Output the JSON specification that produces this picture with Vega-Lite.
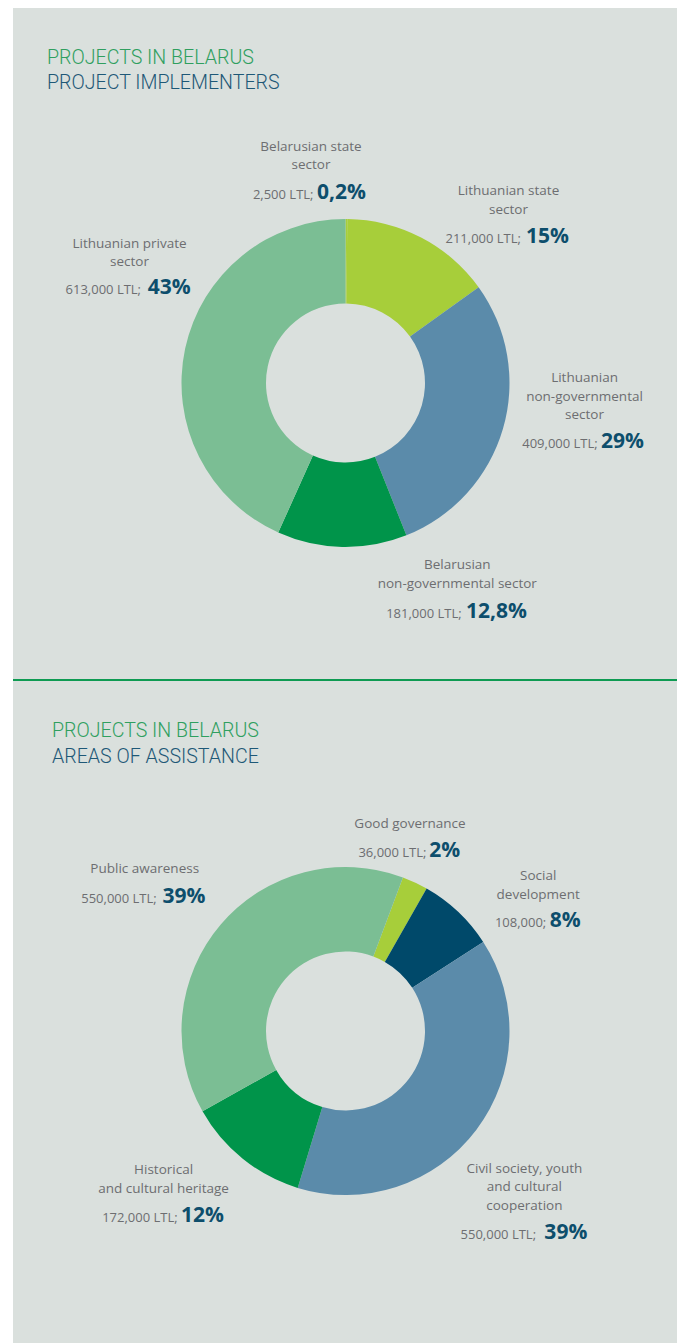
{
  "$schema": "https://vega.github.io/schema/vega-lite/v6.json",
  "background": "white",
  "padding": {"left": 12, "top": 8, "right": 0, "bottom": 0},
  "spacing": 0,
  "bounds": "flush",
  "config": {
    "view": {"fill": "#dae0dd", "stroke": null},
    "text": {"font": "Open Sans", "fontSize": 13.5, "color": "#6d6e71", "baseline": "alphabetic", "lineHeight": 18.8},
    "title": {"anchor": "start", "frame": "group", "font": "Roboto", "fontSize": 19.6, "fontWeight": 300, "color": "#2f9f5f", "subtitleFont": "Roboto", "subtitleFontSize": 19.6, "subtitleFontWeight": 300, "subtitleColor": "#1e5877", "subtitlePadding": 5}
  },
  "resolve": {"scale": {"theta": "independent", "color": "independent"}},
  "datasets": {
    "impl": [
      {"o": 1, "sector": "Belarusian state sector", "lines": ["Belarusian state", "sector"], "amount": 2500, "ltl": "2,500 LTL;", "pct": "0,2%"},
      {"o": 2, "sector": "Lithuanian state sector", "lines": ["Lithuanian state", "sector"], "amount": 211000, "ltl": "211,000 LTL;", "pct": "15%"},
      {"o": 3, "sector": "Lithuanian non-governmental sector", "lines": ["Lithuanian", "non-governmental", "sector"], "amount": 409000, "ltl": "409,000 LTL;", "pct": "29%"},
      {"o": 4, "sector": "Belarusian non-governmental sector", "lines": ["Belarusian", "non-governmental sector"], "amount": 181000, "ltl": "181,000 LTL;", "pct": "12,8%"},
      {"o": 5, "sector": "Lithuanian private sector", "lines": ["Lithuanian private", "sector"], "amount": 613000, "ltl": "613,000 LTL;", "pct": "43%"}
    ],
    "areas": [
      {"o": 1, "area": "Good governance", "lines": ["Good governance"], "amount": 36000, "ltl": "36,000 LTL;", "pct": "2%"},
      {"o": 2, "area": "Social development", "lines": ["Social", "development"], "amount": 108000, "ltl": "108,000;", "pct": "8%"},
      {"o": 3, "area": "Civil society, youth and cultural cooperation", "lines": ["Civil society, youth", "and cultural", "cooperation"], "amount": 550000, "ltl": "550,000 LTL;", "pct": "39%"},
      {"o": 4, "area": "Historical and cultural heritage", "lines": ["Historical", "and cultural heritage"], "amount": 172000, "ltl": "172,000 LTL;", "pct": "12%"},
      {"o": 5, "area": "Public awareness", "lines": ["Public awareness"], "amount": 550000, "ltl": "550,000 LTL;", "pct": "39%"}
    ]
  },
  "vconcat": [
    {
      "width": 665,
      "height": 78,
      "view": {"fill": "#dae0dd", "stroke": null},
      "data": {"values": []},
      "mark": {"type": "text"}
    },
    {
      "width": 665,
      "height": 594,
      "view": {"fill": "#dae0dd", "stroke": null},
      "title": {"text": "PROJECTS IN BELARUS", "subtitle": "PROJECT IMPLEMENTERS", "offset": -14.8, "dx": 34},
      "data": {"name": "impl"},
      "encoding": {
        "theta": {"field": "amount", "type": "quantitative", "stack": true},
        "order": {"field": "o", "type": "quantitative"}
      },
      "layer": [
        {"mark": {"type": "arc", "radius": 164, "innerRadius": 79.5},
         "encoding": {"color": {"field": "sector", "type": "nominal", "legend": null,
           "scale": {"domain": ["Belarusian state sector", "Lithuanian state sector", "Lithuanian non-governmental sector", "Belarusian non-governmental sector", "Lithuanian private sector"],
                     "range": ["#a7ce3a", "#a7ce3a", "#5b8baa", "#00944a", "#7bbe94"]}}}},

        {"mark": {"type": "text", "radius": 200, "dx": -35.6, "dy": -32.3, "align": "center"},
         "encoding": {"text": {"condition": {"test": "datum.o === 1", "field": "lines", "type": "nominal"}, "value": ""}}},
        {"mark": {"type": "text", "radius": 200, "dx": -33.1, "dy": 16, "align": "right", "fontSize": 13},
         "encoding": {"text": {"condition": {"test": "datum.o === 1", "field": "ltl", "type": "nominal"}, "value": ""}}},
        {"mark": {"type": "text", "radius": 200, "dx": -29.6, "dy": 16, "align": "left", "fontSize": 21, "fontWeight": "bold", "color": "#0d4e6c"},
         "encoding": {"text": {"condition": {"test": "datum.o === 1", "field": "pct", "type": "nominal"}, "value": ""}}},

        {"mark": {"type": "text", "radius": 200, "dx": 70.8, "dy": -10.5, "align": "center"},
         "encoding": {"text": {"condition": {"test": "datum.o === 2", "field": "lines", "type": "nominal"}, "value": ""}}},
        {"mark": {"type": "text", "radius": 200, "dx": 83.3, "dy": 37.2, "align": "right", "fontSize": 13},
         "encoding": {"text": {"condition": {"test": "datum.o === 2", "field": "ltl", "type": "nominal"}, "value": ""}}},
        {"mark": {"type": "text", "radius": 200, "dx": 88.3, "dy": 37.2, "align": "left", "fontSize": 21, "fontWeight": "bold", "color": "#0d4e6c"},
         "encoding": {"text": {"condition": {"test": "datum.o === 2", "field": "pct", "type": "nominal"}, "value": ""}}},

        {"mark": {"type": "text", "radius": 200, "dx": 47, "dy": -57.2, "align": "center"},
         "encoding": {"text": {"condition": {"test": "datum.o === 3", "field": "lines", "type": "nominal"}, "value": ""}}},
        {"mark": {"type": "text", "radius": 200, "dx": 60.2, "dy": 9.4, "align": "right", "fontSize": 13},
         "encoding": {"text": {"condition": {"test": "datum.o === 3", "field": "ltl", "type": "nominal"}, "value": ""}}},
        {"mark": {"type": "text", "radius": 200, "dx": 63.5, "dy": 9.4, "align": "left", "fontSize": 21, "fontWeight": "bold", "color": "#0d4e6c"},
         "encoding": {"text": {"condition": {"test": "datum.o === 3", "field": "pct", "type": "nominal"}, "value": ""}}},

        {"mark": {"type": "text", "radius": 200, "dx": 116, "dy": -13.7, "align": "center"},
         "encoding": {"text": {"condition": {"test": "datum.o === 4", "field": "lines", "type": "nominal"}, "value": ""}}},
        {"mark": {"type": "text", "radius": 200, "dx": 120.4, "dy": 35.3, "align": "right", "fontSize": 13},
         "encoding": {"text": {"condition": {"test": "datum.o === 4", "field": "ltl", "type": "nominal"}, "value": ""}}},
        {"mark": {"type": "text", "radius": 200, "dx": 124.7, "dy": 35.3, "align": "left", "fontSize": 21, "fontWeight": "bold", "color": "#0d4e6c"},
         "encoding": {"text": {"condition": {"test": "datum.o === 4", "field": "pct", "type": "nominal"}, "value": ""}}},

        {"mark": {"type": "text", "radius": 200, "dx": -20.4, "dy": -93.4, "align": "center"},
         "encoding": {"text": {"condition": {"test": "datum.o === 5", "field": "lines", "type": "nominal"}, "value": ""}}},
        {"mark": {"type": "text", "radius": 200, "dx": -8.9, "dy": -47.1, "align": "right", "fontSize": 13},
         "encoding": {"text": {"condition": {"test": "datum.o === 5", "field": "ltl", "type": "nominal"}, "value": ""}}},
        {"mark": {"type": "text", "radius": 200, "dx": -2.2, "dy": -47.1, "align": "left", "fontSize": 21, "fontWeight": "bold", "color": "#0d4e6c"},
         "encoding": {"text": {"condition": {"test": "datum.o === 5", "field": "pct", "type": "nominal"}, "value": ""}}}
      ]
    },
    {
      "width": 665,
      "height": 39,
      "view": {"fill": "#dae0dd", "stroke": "#0e9b52", "strokeWidth": 2, "strokeDash": [665, 5000]},
      "data": {"values": []},
      "mark": {"type": "text"}
    },
    {
      "width": 665,
      "height": 624,
      "view": {"fill": "#dae0dd", "stroke": null},
      "title": {"text": "PROJECTS IN BELARUS", "subtitle": "AREAS OF ASSISTANCE", "offset": -48.5, "dx": 39, "subtitlePadding": 6},
      "data": {"name": "areas"},
      "encoding": {
        "theta": {"field": "amount", "type": "quantitative", "stack": true, "scale": {"range": [0.3578, 6.641]}},
        "order": {"field": "o", "type": "quantitative"}
      },
      "layer": [
        {"mark": {"type": "arc", "radius": 164, "innerRadius": 79.5},
         "encoding": {"color": {"field": "area", "type": "nominal", "legend": null,
           "scale": {"domain": ["Good governance", "Social development", "Civil society, youth and cultural cooperation", "Historical and cultural heritage", "Public awareness"],
                     "range": ["#a7ce3a", "#00496a", "#5b8baa", "#00944a", "#7bbe94"]}}}},

        {"mark": {"type": "text", "radius": 200, "dx": -20.3, "dy": -21.4, "align": "center"},
         "encoding": {"text": {"condition": {"test": "datum.o === 1", "field": "lines", "type": "nominal"}, "value": ""}}},
        {"mark": {"type": "text", "radius": 200, "dx": -3.8, "dy": 7.1, "align": "right", "fontSize": 13},
         "encoding": {"text": {"condition": {"test": "datum.o === 1", "field": "ltl", "type": "nominal"}, "value": ""}}},
        {"mark": {"type": "text", "radius": 200, "dx": -1.1, "dy": 7.1, "align": "left", "fontSize": 21, "fontWeight": "bold", "color": "#0d4e6c"},
         "encoding": {"text": {"condition": {"test": "datum.o === 1", "field": "pct", "type": "nominal"}, "value": ""}}},

        {"mark": {"type": "text", "radius": 200, "dx": 55.3, "dy": -5.6, "align": "center"},
         "encoding": {"text": {"condition": {"test": "datum.o === 2", "field": "lines", "type": "nominal"}, "value": ""}}},
        {"mark": {"type": "text", "radius": 200, "dx": 63.4, "dy": 41.7, "align": "right", "fontSize": 13},
         "encoding": {"text": {"condition": {"test": "datum.o === 2", "field": "ltl", "type": "nominal"}, "value": ""}}},
        {"mark": {"type": "text", "radius": 200, "dx": 66.8, "dy": 41.7, "align": "left", "fontSize": 21, "fontWeight": "bold", "color": "#0d4e6c"},
         "encoding": {"text": {"condition": {"test": "datum.o === 2", "field": "pct", "type": "nominal"}, "value": ""}}},

        {"mark": {"type": "text", "radius": 200, "dx": 19.2, "dy": 21.2, "align": "center"},
         "encoding": {"text": {"condition": {"test": "datum.o === 3", "field": "lines", "type": "nominal"}, "value": ""}}},
        {"mark": {"type": "text", "radius": 200, "dx": 30.9, "dy": 87.8, "align": "right", "fontSize": 13},
         "encoding": {"text": {"condition": {"test": "datum.o === 3", "field": "ltl", "type": "nominal"}, "value": ""}}},
        {"mark": {"type": "text", "radius": 200, "dx": 39.2, "dy": 87.8, "align": "left", "fontSize": 21, "fontWeight": "bold", "color": "#0d4e6c"},
         "encoding": {"text": {"condition": {"test": "datum.o === 3", "field": "pct", "type": "nominal"}, "value": ""}}},

        {"mark": {"type": "text", "radius": 200, "dx": -56.6, "dy": -12.9, "align": "center"},
         "encoding": {"text": {"condition": {"test": "datum.o === 4", "field": "lines", "type": "nominal"}, "value": ""}}},
        {"mark": {"type": "text", "radius": 200, "dx": -42.5, "dy": 34.8, "align": "right", "fontSize": 13},
         "encoding": {"text": {"condition": {"test": "datum.o === 4", "field": "ltl", "type": "nominal"}, "value": ""}}},
        {"mark": {"type": "text", "radius": 200, "dx": -39.2, "dy": 34.8, "align": "left", "fontSize": 21, "fontWeight": "bold", "color": "#0d4e6c"},
         "encoding": {"text": {"condition": {"test": "datum.o === 4", "field": "pct", "type": "nominal"}, "value": ""}}},

        {"mark": {"type": "text", "radius": 200, "dx": -48.9, "dy": -27.6, "align": "center"},
         "encoding": {"text": {"condition": {"test": "datum.o === 5", "field": "lines", "type": "nominal"}, "value": ""}}},
        {"mark": {"type": "text", "radius": 200, "dx": -36.9, "dy": 1.8, "align": "right", "fontSize": 13},
         "encoding": {"text": {"condition": {"test": "datum.o === 5", "field": "ltl", "type": "nominal"}, "value": ""}}},
        {"mark": {"type": "text", "radius": 200, "dx": -31.2, "dy": 1.8, "align": "left", "fontSize": 21, "fontWeight": "bold", "color": "#0d4e6c"},
         "encoding": {"text": {"condition": {"test": "datum.o === 5", "field": "pct", "type": "nominal"}, "value": ""}}}
      ]
    }
  ]
}
